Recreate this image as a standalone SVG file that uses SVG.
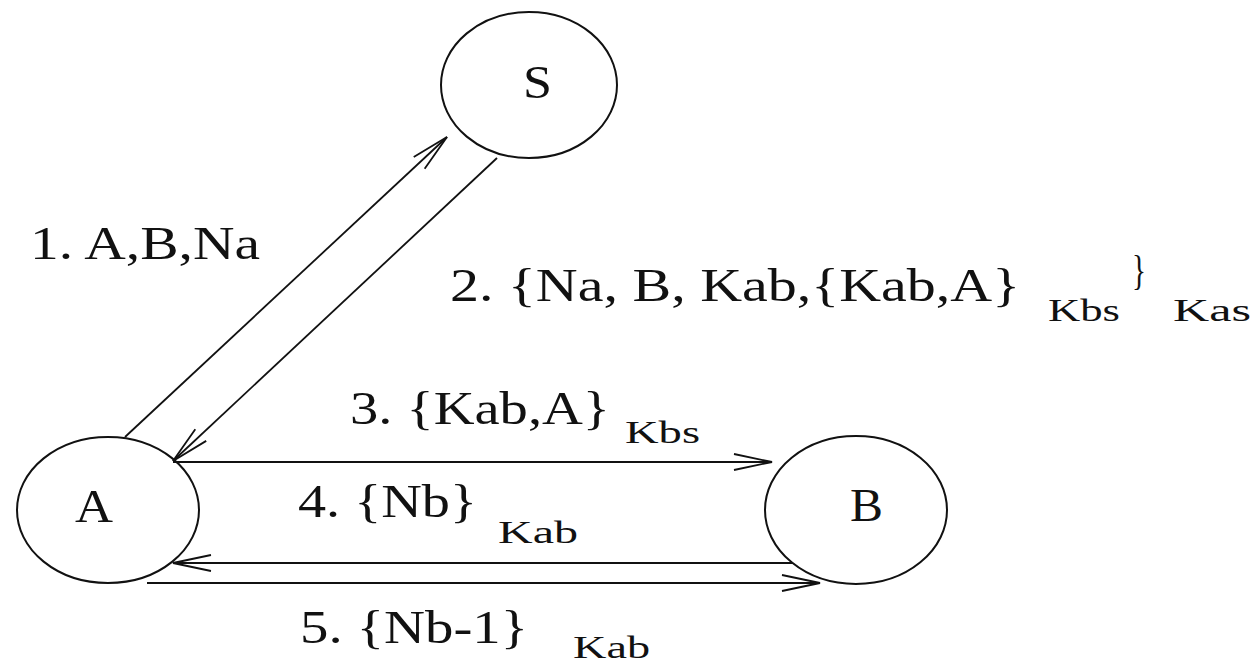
<svg xmlns="http://www.w3.org/2000/svg" width="1253" height="666" viewBox="0 0 1253 666">
<defs>
<style>
.node{fill:none;stroke:#111;stroke-width:2}
.edge{fill:none;stroke:#111;stroke-width:1.8}
text{font-family:"Liberation Serif","Times New Roman",serif;fill:#111}
.lab{font-size:46px}
.sub{font-size:32px}
.brace{font-size:42px}
</style>
<marker id="arr" markerUnits="userSpaceOnUse" markerWidth="50" markerHeight="24" refX="0" refY="0" viewBox="-42 -12 46 24" orient="auto">
<path d="M-38,-8 L0,0 L-38,8" fill="none" stroke="#111" stroke-width="1.8"/>
</marker>
</defs>
<rect width="1253" height="666" fill="#fff"/>
<g id="S">
<ellipse class="node" cx="529" cy="85" rx="88" ry="73"/>
<text class="lab" x="523" y="98" textLength="29" lengthAdjust="spacingAndGlyphs">S</text>
</g>
<g id="A">
<ellipse class="node" cx="108" cy="510" rx="91" ry="73"/>
<text class="lab" x="75" y="522" textLength="38" lengthAdjust="spacingAndGlyphs">A</text>
</g>
<g id="B">
<ellipse class="node" cx="856" cy="510" rx="91" ry="74"/>
<text class="lab" x="850" y="521" textLength="33" lengthAdjust="spacingAndGlyphs">B</text>
</g>
<g id="connectors">
<line class="edge" x1="125" y1="437" x2="447" y2="137" marker-end="url(#arr)"/>
<line class="edge" x1="497" y1="158" x2="173" y2="461" marker-end="url(#arr)"/>
<line class="edge" x1="173" y1="462" x2="772" y2="462" marker-end="url(#arr)"/>
<line class="edge" x1="793" y1="563" x2="173" y2="563" marker-end="url(#arr)"/>
<line class="edge" x1="147" y1="583" x2="820" y2="583" marker-end="url(#arr)"/>
</g>
<g id="labels">
<text class="lab" x="30" y="259" textLength="230" lengthAdjust="spacingAndGlyphs">1. A,B,Na</text>
<text class="lab" x="450" y="301" textLength="570" lengthAdjust="spacingAndGlyphs">2. {Na, B, Kab,{Kab,A}</text>
<text class="sub" x="1048" y="321" textLength="72" lengthAdjust="spacingAndGlyphs">Kbs</text>
<text class="brace" x="1132" y="284" textLength="14" lengthAdjust="spacingAndGlyphs">}</text>
<text class="sub" x="1173" y="321" textLength="78" lengthAdjust="spacingAndGlyphs">Kas</text>
<text class="lab" x="350" y="424" textLength="260" lengthAdjust="spacingAndGlyphs">3. {Kab,A}</text>
<text class="sub" x="625" y="443" textLength="75" lengthAdjust="spacingAndGlyphs">Kbs</text>
<text class="lab" x="298" y="517" textLength="179" lengthAdjust="spacingAndGlyphs">4. {Nb}</text>
<text class="sub" x="498" y="543" textLength="80" lengthAdjust="spacingAndGlyphs">Kab</text>
<text class="lab" x="300" y="643" textLength="228" lengthAdjust="spacingAndGlyphs">5. {Nb-1}</text>
<text class="sub" x="573" y="658" textLength="77" lengthAdjust="spacingAndGlyphs">Kab</text>
</g>
</svg>
